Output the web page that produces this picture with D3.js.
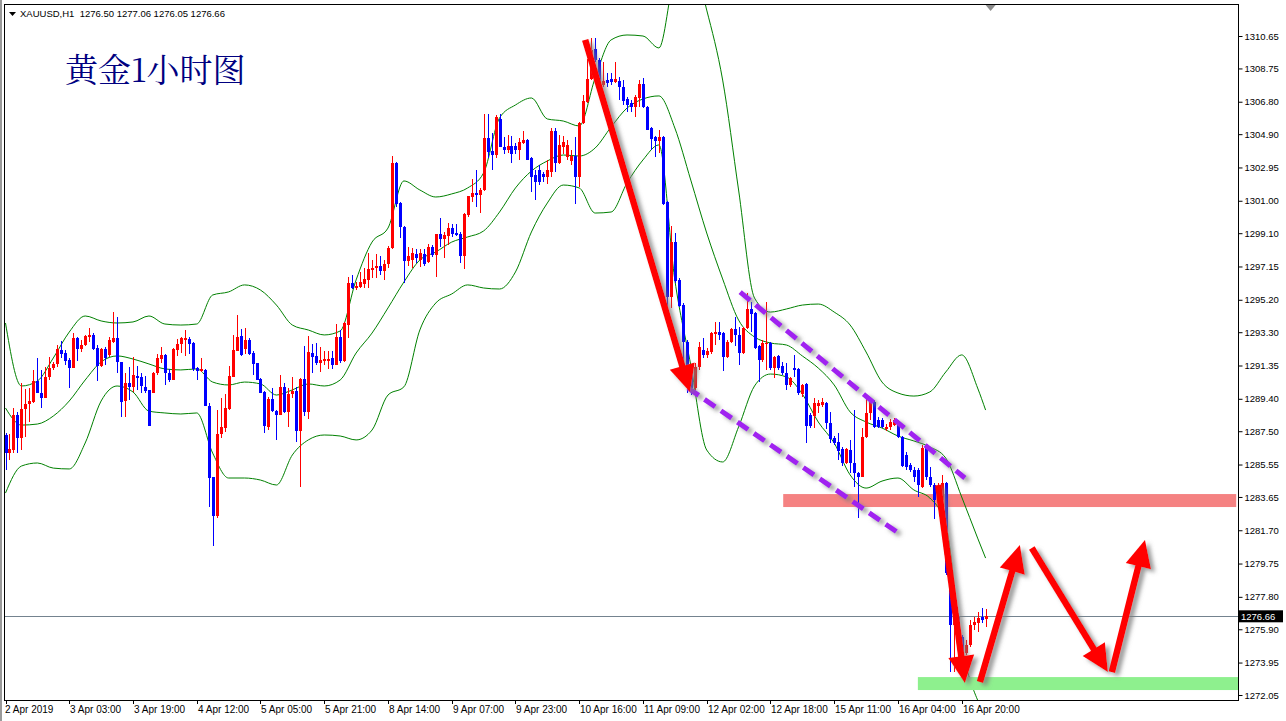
<!DOCTYPE html>
<html><head><meta charset="utf-8">
<script src="https://cdn.jsdelivr.net/npm/d3@7"></script>
<style>
html,body{margin:0;padding:0;background:#fff;}
svg{display:block;}
.ax text{font-family:"Liberation Sans",Arial,sans-serif;font-size:9.5px;fill:#000;}
.tx text{font-family:"Liberation Sans",Arial,sans-serif;font-size:10px;fill:#000;}
</style></head>
<body>
<svg id="c" width="1286" height="721"></svg>
<script>
// ---------------- DATA ----------------
const symbol = "XAUUSD,H1";
const title = "黄金1小时图";
const open = [
1287.28,1286.22,1286.40,1288.45,1287.10,1288.80,1289.10,1289.21,1290.44,1289.74,
1289.45,1290.68,1291.20,1291.44,1292.26,1292.08,1291.67,1291.20,1292.96,1292.32,
1292.55,1293.02,1293.14,1292.38,1291.32,1292.32,1291.97,1292.72,1292.96,1291.56,
1289.27,1290.33,1290.09,1290.73,1290.68,1290.09,1289.92,1289.74,1290.91,1291.73,
1291.97,1290.91,1290.50,1292.26,1292.61,1292.84,1292.90,1292.67,1291.20,1291.03,
1291.09,1288.98,1284.82,1282.53,1287.34,1287.69,1288.80,1290.68,1292.20,1293.08,
1292.32,1292.84,1292.08,1291.50,1290.56,1289.80,1287.75,1289.39,1288.68,1288.45,
1290.09,1288.63,1289.68,1289.86,1287.51,1290.56,1288.63,1292.08,1291.91,1291.50,
1291.61,1291.61,1291.79,1291.38,1293.02,1291.61,1293.72,1296.18,1295.89,1295.95,
1296.12,1296.36,1296.94,1297.06,1297.18,1296.89,1297.29,1298.23,1303.21,1300.87,
1299.46,1297.47,1297.53,1297.88,1297.53,1297.88,1297.41,1298.29,1297.82,1299.05,
1298.76,1298.94,1299.40,1299.11,1299.05,1297.76,1300.16,1301.22,1301.45,1301.34,
1301.63,1304.68,1303.91,1303.68,1305.79,1304.15,1303.97,1304.21,1304.21,1303.97,
1304.38,1304.56,1303.50,1302.51,1302.80,1302.57,1302.39,1302.68,1305.09,1303.21,
1304.15,1303.56,1303.33,1303.62,1302.39,1305.56,1306.78,1308.13,1309.89,1309.25,
1307.78,1308.07,1308.13,1307.96,1308.02,1307.66,1306.96,1306.73,1306.49,1307.02,
1307.84,1306.49,1305.26,1304.73,1304.50,1304.73,1300.93,1295.36,1298.58,1296.36,
1294.89,1292.72,1290.79,1290.03,1291.26,1292.26,1291.97,1292.14,1293.19,1293.31,
1293.25,1291.85,1292.72,1293.49,1293.14,1292.08,1293.55,1294.66,1294.42,1292.49,
1291.67,1292.61,1292.67,1291.20,1291.91,1291.32,1290.91,1290.21,1291.20,1291.15,
1289.68,1290.27,1288.45,1288.39,1288.98,1289.04,1289.15,1287.98,1287.10,1286.87,
1286.46,1285.64,1286.40,1285.64,1285.05,1284.82,1287.16,1288.57,1289.21,1288.16,
1288.16,1287.63,1287.75,1287.86,1288.04,1287.16,1286.11,1285.52,1285.23,1285.23,
1284.23,1286.52,1284.82,1284.35,1283.47,1283.47,1284.47,1279.18,1276.15,1276.62,
1275.45,1274.51,1274.97,1276.15,1276.26,1276.62,1276.50];
const high = [
1287.40,1287.34,1288.86,1288.63,1290.33,1289.97,1290.03,1291.09,1291.79,1291.09,
1291.26,1291.85,1291.56,1292.55,1292.79,1292.26,1291.79,1293.25,1293.02,1292.84,
1293.14,1293.55,1293.25,1292.55,1292.38,1292.43,1293.02,1294.48,1294.19,1291.56,
1290.91,1291.26,1291.85,1291.32,1290.91,1290.73,1289.92,1290.97,1292.03,1292.43,
1292.03,1291.15,1292.38,1292.90,1293.02,1293.43,1293.02,1292.72,1291.26,1291.79,
1291.15,1289.15,1284.82,1288.74,1289.45,1289.68,1291.32,1293.14,1294.30,1293.49,
1293.55,1292.96,1292.20,1291.50,1290.62,1289.86,1289.51,1290.03,1288.74,1290.79,
1290.33,1290.03,1290.68,1290.09,1290.62,1292.49,1293.08,1292.61,1292.67,1292.43,
1292.20,1292.20,1292.20,1293.78,1293.43,1293.90,1296.53,1296.65,1296.24,1296.83,
1297.06,1297.94,1297.53,1297.88,1297.76,1297.53,1298.35,1303.62,1303.27,1300.93,
1299.52,1298.29,1298.23,1298.17,1298.17,1298.17,1298.47,1298.41,1299.05,1299.99,
1299.17,1299.70,1299.64,1299.64,1299.17,1300.28,1301.28,1302.27,1302.80,1301.75,
1306.08,1306.08,1304.97,1306.02,1306.08,1304.74,1304.85,1304.79,1304.38,1304.68,
1305.09,1304.62,1303.56,1302.80,1303.09,1302.68,1303.39,1305.26,1305.26,1304.85,
1304.79,1304.56,1303.97,1304.74,1305.61,1307.19,1309.30,1310.53,1310.53,1309.36,
1309.13,1308.48,1308.48,1309.13,1308.25,1308.07,1307.08,1306.90,1307.19,1308.07,
1308.19,1306.55,1305.32,1304.79,1305.14,1304.79,1300.99,1299.52,1299.11,1296.47,
1295.01,1292.84,1290.91,1291.50,1292.72,1292.96,1292.38,1293.31,1293.90,1293.90,
1293.31,1292.84,1293.55,1294.19,1293.60,1293.60,1295.60,1295.07,1294.48,1292.55,
1292.84,1295.07,1292.72,1291.91,1291.97,1291.56,1291.50,1290.68,1291.97,1291.20,
1290.27,1290.33,1288.57,1289.45,1289.33,1289.45,1289.21,1288.63,1287.22,1287.40,
1286.58,1286.52,1286.99,1288.74,1285.11,1287.69,1289.62,1289.45,1289.33,1288.33,
1288.27,1287.92,1288.21,1288.27,1288.16,1287.22,1286.28,1285.64,1285.40,1285.34,
1286.69,1286.58,1285.40,1284.47,1284.47,1284.94,1284.53,1279.29,1276.79,1276.85,
1275.56,1275.27,1276.44,1276.62,1276.91,1277.14,1277.06];
const low = [
1285.23,1285.81,1286.22,1286.22,1286.40,1287.16,1288.04,1289.15,1289.74,1288.86,
1289.45,1290.50,1291.09,1291.26,1291.79,1291.38,1290.03,1291.20,1291.61,1292.14,
1292.49,1292.72,1292.26,1290.44,1291.26,1291.38,1291.85,1292.67,1290.91,1288.33,
1288.33,1289.33,1289.80,1289.92,1289.74,1289.74,1287.81,1289.74,1290.79,1291.50,
1290.21,1290.38,1290.50,1291.91,1292.08,1291.91,1292.03,1291.03,1290.50,1290.97,
1288.98,1283.06,1280.78,1282.41,1287.10,1287.45,1288.74,1290.68,1292.20,1291.91,
1292.03,1291.97,1290.79,1290.50,1289.74,1287.40,1287.57,1288.63,1286.99,1288.45,
1288.57,1287.75,1289.45,1286.87,1284.23,1288.39,1288.21,1290.91,1291.38,1290.97,
1291.38,1291.15,1291.15,1291.38,1291.50,1291.56,1292.96,1295.83,1295.77,1295.89,
1295.89,1295.89,1296.47,1296.47,1296.65,1296.36,1297.06,1298.17,1300.63,1298.82,
1296.18,1297.18,1297.06,1297.35,1297.12,1297.18,1297.35,1297.70,1296.53,1298.29,
1297.65,1298.41,1298.88,1298.94,1297.35,1297.00,1300.05,1300.93,1300.63,1300.28,
1301.57,1303.50,1302.80,1303.50,1304.15,1303.74,1303.80,1303.21,1303.74,1303.39,
1304.33,1303.39,1301.51,1301.04,1301.92,1302.10,1301.98,1302.39,1302.68,1303.15,
1303.74,1303.39,1303.09,1300.81,1301.81,1305.50,1306.73,1308.07,1309.13,1307.66,
1307.66,1307.66,1307.78,1307.90,1306.90,1306.61,1306.20,1306.20,1305.91,1306.49,
1306.43,1305.14,1303.97,1303.56,1303.80,1300.75,1294.72,1294.72,1296.18,1294.78,
1291.26,1289.74,1289.62,1289.92,1291.09,1291.79,1291.79,1292.03,1292.55,1292.84,
1291.03,1291.79,1292.67,1292.49,1291.38,1292.03,1293.49,1293.31,1292.32,1290.38,
1291.56,1291.09,1291.09,1290.62,1291.09,1290.79,1289.92,1290.09,1290.68,1289.62,
1289.51,1286.81,1287.69,1287.69,1288.57,1288.92,1287.63,1286.81,1286.69,1285.81,
1285.46,1285.58,1285.05,1284.23,1282.41,1284.82,1287.10,1288.16,1287.69,1287.69,
1287.69,1287.51,1287.57,1287.81,1287.10,1285.40,1285.23,1285.11,1284.53,1283.65,
1284.17,1284.64,1284.23,1282.36,1283.30,1283.00,1279.06,1273.39,1273.39,1274.10,
1272.93,1274.39,1274.86,1275.85,1275.74,1276.26,1276.05];
const close = [
1286.22,1286.46,1288.45,1287.10,1288.80,1289.10,1289.27,1290.44,1289.74,1289.45,
1290.68,1291.20,1291.44,1292.32,1292.03,1291.61,1291.20,1292.96,1292.32,1292.55,
1293.08,1293.14,1292.32,1291.32,1292.32,1291.79,1292.84,1292.96,1291.56,1289.21,
1290.33,1290.09,1290.79,1290.62,1290.15,1289.86,1287.81,1290.91,1291.79,1291.97,
1290.91,1290.50,1292.32,1292.61,1292.96,1292.96,1292.61,1291.15,1291.03,1291.15,
1288.98,1284.76,1282.53,1287.34,1287.75,1288.86,1290.73,1292.26,1293.02,1291.97,
1292.84,1292.03,1291.44,1290.50,1289.74,1287.81,1289.39,1288.68,1288.45,1290.09,
1288.63,1289.68,1289.86,1287.51,1290.56,1288.63,1292.14,1291.85,1291.50,1291.67,
1291.73,1291.73,1291.38,1293.02,1291.61,1293.84,1296.18,1295.89,1296.01,1296.24,
1296.42,1297.00,1297.06,1297.18,1296.89,1297.29,1298.23,1303.21,1300.81,1299.46,
1297.47,1297.76,1297.94,1297.65,1297.94,1297.29,1298.29,1297.82,1299.05,1298.76,
1298.99,1299.40,1299.05,1298.99,1297.76,1300.22,1301.28,1301.45,1301.34,1301.63,
1304.68,1303.86,1303.68,1305.91,1304.15,1303.97,1304.21,1303.74,1303.97,1304.44,
1304.56,1303.39,1302.39,1302.10,1302.10,1302.39,1302.80,1305.09,1303.21,1304.27,
1304.44,1304.27,1303.62,1302.39,1305.56,1306.84,1308.13,1309.83,1309.25,1307.78,
1308.02,1307.90,1307.96,1308.13,1307.66,1306.84,1306.61,1306.49,1307.08,1307.84,
1306.49,1305.14,1304.62,1304.50,1304.73,1300.81,1295.36,1298.58,1296.30,1294.84,
1292.72,1290.68,1290.03,1291.26,1292.43,1291.97,1292.20,1293.25,1293.31,1293.14,
1291.85,1292.72,1293.49,1293.14,1292.08,1293.55,1294.66,1294.37,1292.38,1291.67,
1292.67,1292.67,1291.20,1291.85,1291.20,1290.91,1290.21,1290.62,1291.09,1289.74,
1290.21,1287.81,1287.81,1289.15,1289.15,1289.21,1287.98,1287.04,1286.81,1286.34,
1285.64,1286.46,1285.64,1285.05,1284.82,1287.16,1288.57,1289.21,1287.75,1287.75,
1287.75,1287.75,1288.04,1288.16,1287.16,1285.46,1285.40,1285.23,1284.82,1284.35,
1286.52,1284.82,1284.35,1283.47,1284.23,1284.47,1279.18,1276.15,1276.62,1275.45,
1274.51,1274.97,1276.15,1276.32,1276.56,1276.44,1276.66];

// Bollinger bands, read at every 4th bar
const bandBars = [0,4,8,12,16,20,24,28,32,36,40,44,48,52,56,60,64,68,72,76,80,84,88,92,96,100,
 104,108,112,116,120,124,128,132,136,140,144,148,152,156,160,164,168,172,176,180,184,188,192,196,
 200,204,208,212,216,220,224,228,232,236,240,244,246];
const bandUpper = [
1293.84,1290.15,1290.44,1291.79,1293.31,1294.25,1293.96,1293.84,1293.90,1294.25,
1293.78,1293.72,1293.78,1295.48,1295.66,1296.07,1295.77,1294.89,1293.72,1293.43,
1293.14,1293.37,1296.36,1298.58,1299.40,1302.16,1301.63,1301.22,1301.40,1301.75,
1302.63,1305.85,1306.61,1307.02,1305.79,1305.67,1305.38,1308.19,1310.42,1310.71,
1310.65,1309.95,1314.22,1315.40,1312.17,1308.07,1301.63,1295.30,1294.48,1294.66,
1294.89,1294.95,1294.48,1293.72,1292.14,1290.38,1289.74,1289.56,1289.80,1290.97,
1291.97,1290.03,1288.74];
const bandMiddle = [
1288.86,1287.86,1287.92,1288.39,1289.27,1290.50,1291.56,1291.91,1291.73,1291.44,
1291.15,1291.09,1291.15,1290.38,1290.21,1290.38,1290.27,1289.62,1289.92,1290.27,
1290.15,1290.50,1292.08,1293.25,1294.72,1296.24,1297.53,1298.00,1298.58,1298.88,
1299.23,1300.34,1301.75,1302.74,1303.33,1303.68,1303.62,1304.09,1305.32,1306.43,
1306.96,1307.14,1305.26,1302.21,1299.11,1296.42,1294.01,1293.02,1292.67,1292.55,
1291.91,1291.20,1290.21,1288.63,1288.04,1287.69,1287.22,1286.93,1286.58,1285.93,
1283.65,1281.24,1280.07];
const bandLower = [
1283.88,1285.46,1285.64,1285.34,1285.29,1286.81,1289.27,1290.15,1289.80,1288.68,
1288.57,1288.51,1288.57,1286.22,1284.76,1284.76,1284.64,1284.35,1286.11,1286.99,
1287.28,1287.22,1286.99,1287.57,1289.62,1290.10,1293.43,1295.01,1295.54,1296.07,
1295.89,1295.83,1296.83,1299.17,1300.87,1301.92,1301.75,1300.28,1300.34,1302.04,
1303.39,1304.27,1296.36,1291.38,1286.40,1285.70,1287.75,1290.15,1290.85,1290.68,
1289.68,1288.04,1286.81,1284.94,1284.17,1284.58,1284.76,1284.06,1283.59,1282.01,
1274.98,1271.75,1270.88];

const priceTicks = [1310.65,1308.75,1306.80,1304.90,1302.95,1301.00,1299.10,1297.15,1295.20,1293.30,
 1291.35,1289.40,1287.50,1285.55,1283.65,1281.70,1279.75,1277.80,1275.90,1273.95,1272.05];
const timeTickBars = [0,16,32,48,64,80,96,112,128,144,160,176,192,208,224,240];
const timeTickLabels = ["2 Apr 2019","3 Apr 03:00","3 Apr 19:00","4 Apr 12:00","5 Apr 05:00","5 Apr 21:00",
 "8 Apr 14:00","9 Apr 07:00","9 Apr 23:00","10 Apr 16:00","11 Apr 09:00","12 Apr 02:00","12 Apr 18:00",
 "15 Apr 11:00","16 Apr 04:00","16 Apr 20:00"];

// annotations: [barStart, barEnd, priceTop, priceBottom]
const zoneResistance = [195.2, 308.9, 1283.82, 1283.06];
const zoneSupport = [229.0, 309.9, 1273.10, 1272.34];
// dashed channel lines: [bar1, price1, bar2, price2]
const channelLines = [[184.4,1295.65,240.8,1284.76],[171.3,1290.03,223.8,1281.59]];
// arrows: [barFrom, priceFrom, barTo, priceTo]
const arrows = [[145.5,1310.42,171.8,1289.80],[234.1,1284.35,240.8,1272.75],
 [244.6,1272.81,254.6,1280.83],[257.6,1280.66,276.7,1273.39],[277.7,1273.39,286.0,1281.13]];

// ---------------- DRAW ----------------
const W = 1286, H = 721;
const L = 4, R = 1238, T = 4, B = 700;
const svg = d3.select("#c");
const n = close.length;
const x = d3.scaleLinear().domain([0, n-1]).range([5.5, 985.6]);
const y = d3.scaleLinear().domain([1272.05, 1310.65]).range([695, 36]);

const defs = svg.append("defs");
defs.append("clipPath").attr("id","plot").append("rect")
  .attr("x",L+1).attr("y",T+1).attr("width",R-L-1).attr("height",B-T-1);
const f = defs.append("filter").attr("id","sh").attr("filterUnits","userSpaceOnUse")
  .attr("x",0).attr("y",0).attr("width",W).attr("height",H);
f.append("feGaussianBlur").attr("in","SourceAlpha").attr("stdDeviation",2.2).attr("result","bl");
f.append("feOffset").attr("in","bl").attr("dx",4).attr("dy",3).attr("result","off");
f.append("feFlood").attr("flood-color","#7a7a7a").attr("flood-opacity",0.75).attr("result","fc");
f.append("feComposite").attr("in","fc").attr("in2","off").attr("operator","in").attr("result","shd");
const fm = f.append("feMerge");
fm.append("feMergeNode").attr("in","shd");
fm.append("feMergeNode").attr("in","SourceGraphic");

svg.append("rect").attr("width",W).attr("height",H).attr("fill","#fff");
svg.append("rect").attr("x",0).attr("y",0).attr("width",2).attr("height",H).attr("fill","#9a9a9a");

const plot = svg.append("g").attr("clip-path","url(#plot)");

// zones
function zone(z, color){
  plot.append("rect")
    .attr("x", x(z[0])).attr("width", x(z[1]) - x(z[0]))
    .attr("y", y(z[2])).attr("height", y(z[3]) - y(z[2]))
    .attr("fill", color);
}
zone(zoneResistance, "#f58282");

// current price line
plot.append("line").attr("x1",L).attr("x2",R)
  .attr("y1",Math.round(y(close[n-1]))+0.5).attr("y2",Math.round(y(close[n-1]))+0.5)
  .attr("stroke","#74838f").attr("stroke-width",1);

// bands
const line = d3.line().x(d=>x(d[0])).y(d=>y(d[1])).curve(d3.curveMonotoneX);
[bandUpper, bandMiddle, bandLower].forEach(arr=>{
  plot.append("path").datum(bandBars.map((b,i)=>[b,arr[i]]))
    .attr("d",line).attr("fill","none").attr("stroke","#008000").attr("stroke-width",1);
});

// candles
const idx = d3.range(n);
const cg = plot.append("g").attr("shape-rendering","crispEdges");
cg.selectAll("line.w").data(idx).join("line").attr("class","w")
  .attr("x1",i=>Math.round(x(i))+0.5).attr("x2",i=>Math.round(x(i))+0.5)
  .attr("y1",i=>y(high[i])).attr("y2",i=>y(low[i]))
  .attr("stroke",i=>close[i]>open[i]?"#ff0000":"#0000ff").attr("stroke-width",1);
cg.selectAll("rect.b").data(idx).join("rect").attr("class","b")
  .attr("x",i=>Math.round(x(i))-1).attr("width",3)
  .attr("y",i=>y(Math.max(open[i],close[i])))
  .attr("height",i=>Math.max(1, Math.abs(y(open[i])-y(close[i]))))
  .attr("fill",i=>close[i]>open[i]?"#ff0000":"#0000ff");

zone(zoneSupport, "#8ef08e");

// channel dashed lines
channelLines.forEach(c=>{
  plot.append("line").attr("x1",x(c[0])).attr("y1",y(c[1])).attr("x2",x(c[2])).attr("y2",y(c[3]))
    .attr("stroke","#a020f0").attr("stroke-width",5).attr("stroke-dasharray","13,7")
    .attr("filter","url(#sh)");
});

// arrows
arrows.forEach(a=>{
  const x0=x(a[0]), y0=y(a[1]), x1=x(a[2]), y1=y(a[3]);
  const dx=x1-x0, dy=y1-y0, len=Math.hypot(dx,dy), ux=dx/len, uy=dy/len;
  const hl=27, hw=13;
  const bx=x1-ux*hl, by=y1-uy*hl;
  const g = plot.append("g").attr("filter","url(#sh)");
  g.append("line").attr("x1",x0).attr("y1",y0).attr("x2",bx+ux*4).attr("y2",by+uy*4)
    .attr("stroke","#ff0000").attr("stroke-width",6.5);
  g.append("polygon").attr("points",[[x1,y1],[bx-uy*hw,by+ux*hw],[bx+uy*hw,by-ux*hw]].map(p=>p.join(",")).join(" "))
    .attr("fill","#ff0000");
});

// frame
svg.append("rect").attr("x",L+0.5).attr("y",T+0.5).attr("width",R-L).attr("height",B-T)
  .attr("fill","none").attr("stroke","#000").attr("stroke-width",1).attr("shape-rendering","crispEdges");

// chart shift marker
const sx = x(n-1)+5;
svg.append("polygon").attr("points",`${sx-5},${T+1} ${sx+5},${T+1} ${sx},${T+7}`).attr("fill","#8c8c8c");

// right price axis
const ya = d3.axisRight(y).tickValues(priceTicks).tickFormat(d3.format(".2f")).tickSize(4).tickPadding(2);
const yg = svg.append("g").attr("class","ax").attr("transform",`translate(${R+0.5},0)`).call(ya);
yg.select(".domain").remove();
yg.selectAll("line").attr("stroke","#000");

// current price label
const cy = y(close[n-1]);
svg.append("rect").attr("x",R+1).attr("y",cy-6).attr("width",44).attr("height",12).attr("fill","#000");
svg.append("text").attr("x",R+3).attr("y",cy+3.5)
  .attr("font-family","Liberation Sans,Arial,sans-serif").attr("font-size","9.5px").attr("fill","#fff")
  .text(d3.format(".2f")(close[n-1]));

// bottom time axis
const tg = svg.append("g").attr("class","tx");
tg.selectAll("line").data(timeTickBars).join("line")
  .attr("x1",b=>Math.round(x(b))+0.5).attr("x2",b=>Math.round(x(b))+0.5)
  .attr("y1",B).attr("y2",B+4).attr("stroke","#000");
tg.selectAll("text").data(timeTickBars).join("text")
  .attr("x",b=>Math.round(x(b))+ (b===0?-1:1)).attr("y",B+13)
  .text((b,i)=>timeTickLabels[i]);

// header
svg.append("polygon").attr("points","9,12 16,12 12.5,16").attr("fill","#000");
svg.append("text").attr("x",20).attr("y",17)
  .attr("font-family","Liberation Sans,Arial,sans-serif").attr("font-size","9.5px").attr("fill","#000")
  .attr("xml:space","preserve")
  .text(`${symbol}  ${[open[n-1],high[n-1],low[n-1],close[n-1]].map(d3.format(".2f")).join(" ")}`);

// title
svg.append("text").attr("x",65).attr("y",82)
  .attr("font-family","'Noto Serif CJK SC','Noto Sans CJK SC',serif").attr("font-size","33px")
  .attr("fill","#000080").text(title);
</script>
</body></html>
